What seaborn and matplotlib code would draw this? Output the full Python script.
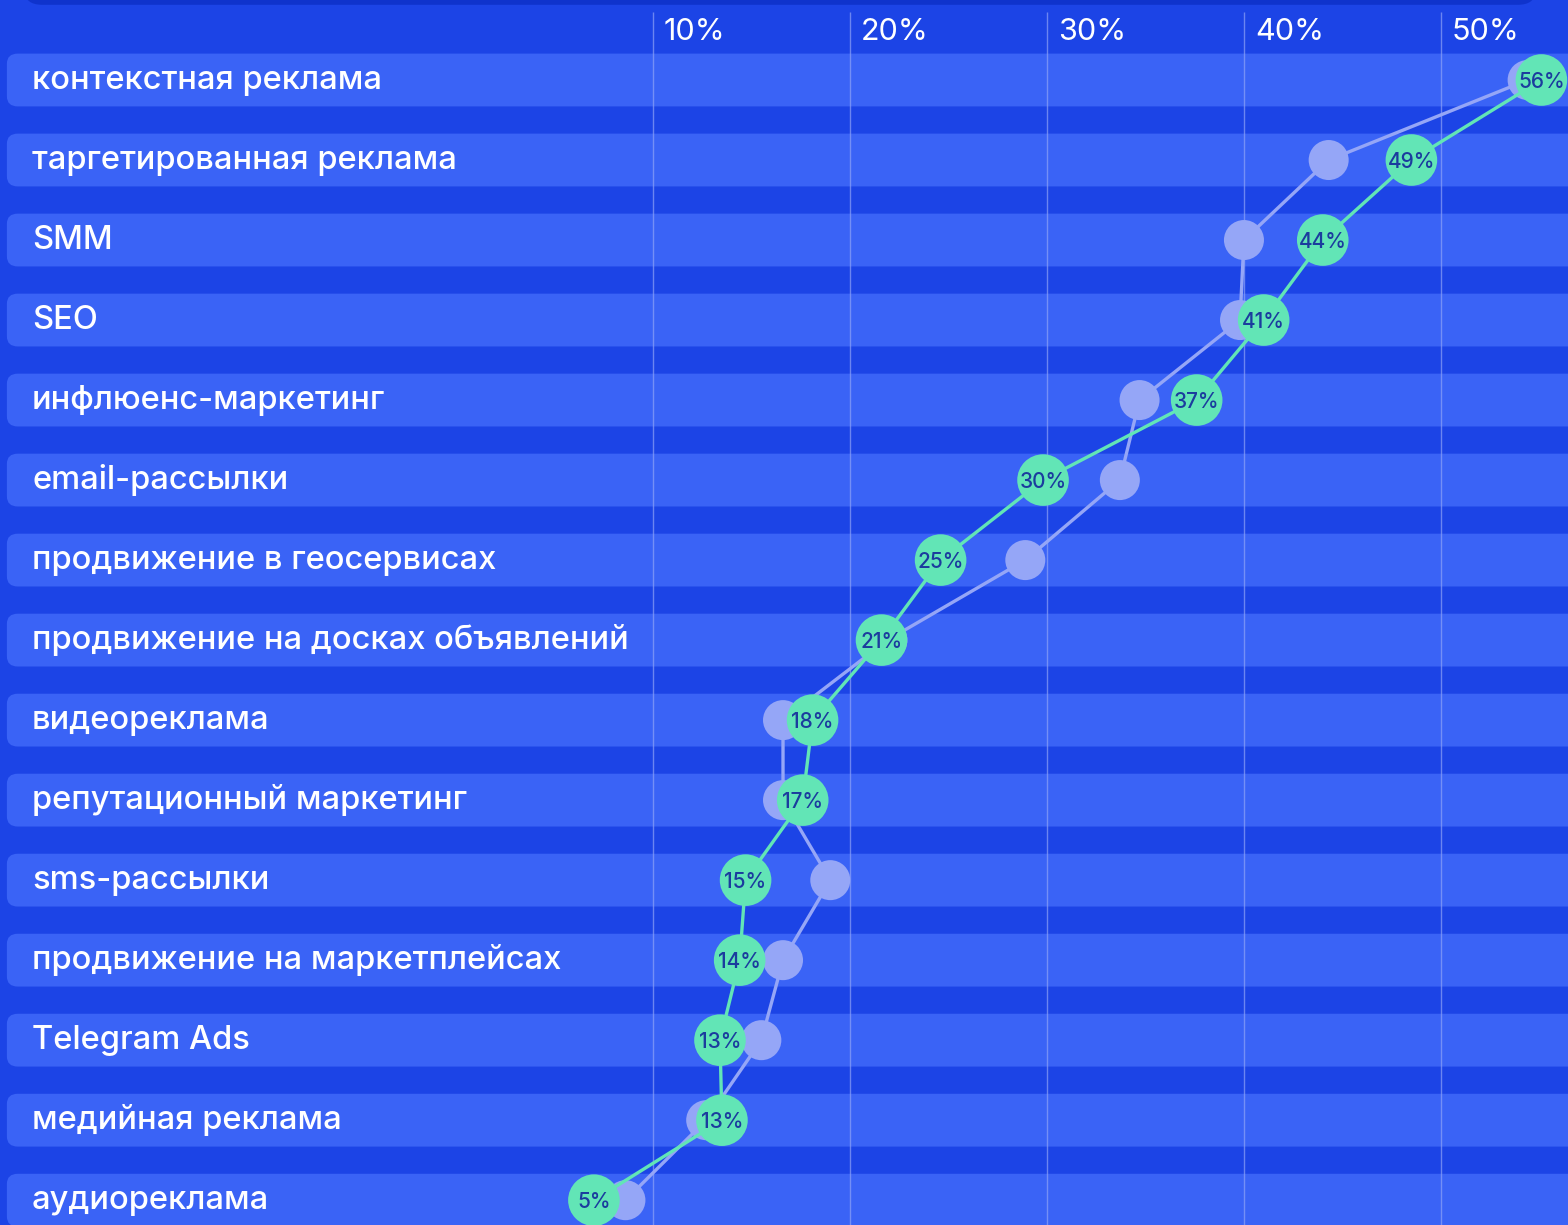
import pandas as pd
import seaborn as sns
import matplotlib.pyplot as plt
from matplotlib.patches import FancyBboxPatch

# Data
categories = [
    'контекстная реклама', 'таргетированная реклама', 'SMM', 'SEO',
    'инфлюенс-маркетинг', 'email-рассылки', 'продвижение в геосервисах',
    'продвижение на досках объявлений', 'видеореклама', 'репутационный маркетинг',
    'sms-рассылки', 'продвижение на маркетплейсах', 'Telegram Ads',
    'медийная реклама', 'аудиореклама',
]
share_now = [55.1, 48.5, 44.0, 41.0, 37.6, 29.8, 24.6, 21.6, 18.1, 17.6, 14.7, 14.4, 13.4, 13.5, 7.0]
share_labels = ['56%', '49%', '44%', '41%', '37%', '30%', '25%', '21%', '18%', '17%',
                '15%', '14%', '13%', '13%', '5%']
share_prev = [54.4, 44.3, 40.0, 39.8, 34.7, 33.7, 28.9, 21.9, 16.6, 16.6, 19.0, 16.6, 15.5, 12.7, 8.6]
tick_values = [10, 20, 30, 40, 50]

# Colours
bg = '#1C44E6'
band = '#3A63F6'
top_band = '#0F33CC'
green = '#62E5B6'
purple = '#95A6F7'
label_col = '#1B3C9E'

sns.set_style('white')
plt.rcParams['font.family'] = ['Inter', 'DejaVu Sans']

df = pd.DataFrame({'category': categories, 'row': range(len(categories)),
                   'now': share_now, 'prev': share_prev})

fig = plt.figure(figsize=(15.68, 12.25), dpi=100)
fig.patch.set_facecolor(bg)
ax = fig.add_axes([0, 0, 1, 1])
ax.set_facecolor(bg)

# px -> data: x = (px - 456) / 19.7 ; y = (py - 80) / 80
ax.set_xlim(-23.15, 56.45)
ax.set_ylim(14.31, -1.0)

# dark strip at the very top
ax.add_patch(FancyBboxPatch((-21.9, -1.4), 76.7, 0.46,
                            boxstyle='round,pad=0,rounding_size=0.9',
                            mutation_aspect=0.2, fc=top_band, ec='none', zorder=1))

# row bands
for i in df['row']:
    ax.add_patch(FancyBboxPatch((-22.8, i - 0.33), 85, 0.66,
                                boxstyle='round,pad=0,rounding_size=0.55',
                                mutation_aspect=0.23, fc=band, ec='none', zorder=1))

# grid lines and top tick labels
ax.vlines(tick_values, -0.85, 14.4, color='#8EA2F7', lw=1, alpha=0.7, zorder=2)
for v in tick_values:
    ax.text(v + 0.55, -0.6, f'{v}%', ha='left', va='center', color='white',
            fontsize=22, zorder=2)

# category labels
for i, name in enumerate(categories):
    ax.text(-21.52, i, name, ha='left', va='center', color='white',
            fontsize=23.5, fontweight='medium', zorder=2)

# previous period (purple)
sns.lineplot(data=df, x='prev', y='row', sort=False, estimator=None,
             color=purple, lw=2.4, ax=ax, zorder=3)
sns.scatterplot(data=df, x='prev', y='row', s=830, color=purple,
                edgecolor='none', ax=ax, zorder=4, legend=False)

# current period (green)
sns.lineplot(data=df, x='now', y='row', sort=False, estimator=None,
             color=green, lw=2.4, ax=ax, zorder=5)
sns.scatterplot(data=df, x='now', y='row', s=1380, color=green,
                edgecolor='none', ax=ax, zorder=6, legend=False)

for x, y, lab in zip(share_now, df['row'], share_labels):
    ax.text(x, y + 0.02, lab, ha='center', va='center', color=label_col,
            fontsize=15, fontweight='medium', zorder=7)

ax.set_xlim(-23.15, 56.45)
ax.set_ylim(14.31, -1.0)
ax.set_axis_off()

fig.savefig('out.png', dpi=100, facecolor=bg)
